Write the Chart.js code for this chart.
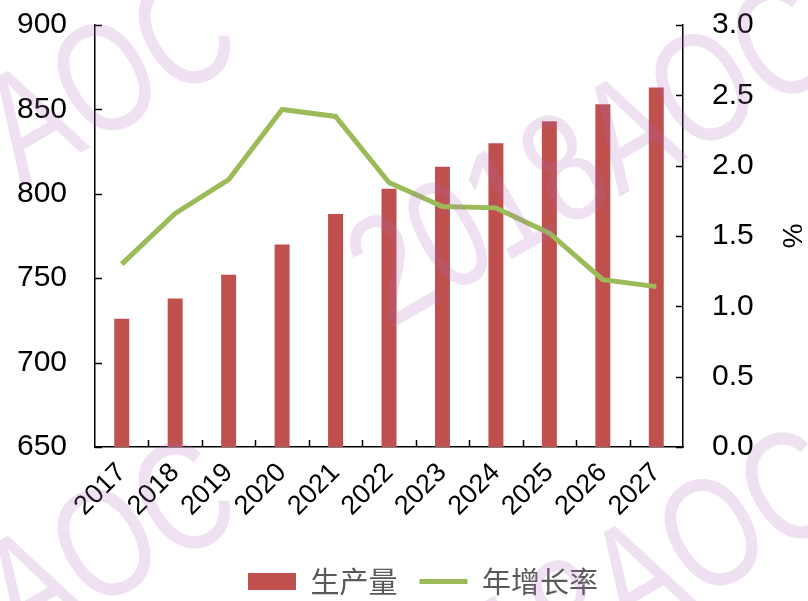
<!DOCTYPE html>
<html>
<head>
<meta charset="utf-8">
<script src="https://cdn.jsdelivr.net/npm/chart.js@4/dist/chart.umd.min.js"></script>
<style>
  body { margin: 0; background: #fff; }
  canvas { display: block; }
</style>
</head>
<body>
<canvas id="chart" width="808" height="601"></canvas>
<script>
const years = ['2017', '2018', '2019', '2020', '2021', '2022', '2023', '2024', '2025', '2026', '2027'];
const production = [726, 738, 752, 770, 788, 803, 816, 830, 843, 853, 863];
const growth = [1.30, 1.66, 1.90, 2.40, 2.35, 1.88, 1.71, 1.70, 1.52, 1.19, 1.14];
const leftTicks = [650, 700, 750, 800, 850, 900];
const rightTicks = [0, 0.5, 1.0, 1.5, 2.0, 2.5, 3.0];

const tickFont = { family: 'Liberation Sans, Arial, sans-serif', size: 30 };

// short tick marks pointing into the plot, like the original
const innerTicks = {
    id: 'innerTicks',
    afterDatasetsDraw(chart) {
        const ctx = chart.ctx;
        const area = chart.chartArea;
        const x = chart.scales.x;
        const y = chart.scales.y;
        const y2 = chart.scales.y2;
        ctx.save();
        ctx.strokeStyle = '#000';
        ctx.lineWidth = 1.5;
        ctx.beginPath();
        leftTicks.forEach(v => {
            const p = Math.round(y.getPixelForValue(v)) + 0.5;
            ctx.moveTo(area.left, p);
            ctx.lineTo(area.left + 7, p);
        });
        rightTicks.forEach(v => {
            const p = Math.round(y2.getPixelForValue(v)) + 0.5;
            ctx.moveTo(area.right, p);
            ctx.lineTo(area.right - 7, p);
        });
        const half = (x.getPixelForValue(1) - x.getPixelForValue(0)) / 2;
        for (let i = 1; i < years.length; i++) {
            const p = Math.round(x.getPixelForValue(i) - half) + 0.5;
            ctx.moveTo(p, area.bottom);
            ctx.lineTo(p, area.bottom - 7);
        }
        ctx.stroke();
        ctx.restore();
    }
};

// legend sits a bit right of centre and lower in the original
const legendShift = {
    id: 'legendShift',
    afterLayout(chart) {
        const lg = chart.legend;
        lg.left += 38;
        lg.top += 7;
        lg.bottom += 7;
    }
};

const watermark = {
    id: 'watermark',
    afterDraw(chart) {
        const ctx = chart.ctx;
        // x, y = centre of the "O" in each stamp
        const marks = [
            { text: 'AOC', at: 1, x: 103, y: 75 },
            { text: '2018AOC', at: 5, x: 701, y: 85 },
            { text: '2018AOC', at: 5, x: 103, y: 540 },
            { text: '2018AOC', at: 5, x: 710, y: 530 }
        ];
        ctx.save();
        ctx.font = '120px "Liberation Sans", Arial, sans-serif';
        ctx.fillStyle = 'rgba(175, 105, 190, 0.2)';
        ctx.textBaseline = 'alphabetic';
        ctx.textAlign = 'left';
        marks.forEach(m => {
            const pre = ctx.measureText(m.text.slice(0, m.at)).width;
            const o = ctx.measureText('O').width;
            ctx.save();
            ctx.translate(m.x, m.y);
            ctx.rotate(-30 * Math.PI / 180);
            ctx.scale(1, 1.3);
            ctx.fillText(m.text, -pre - o / 2, 0.36 * 120);
            ctx.restore();
        });
        ctx.restore();
    }
};

// the tick padding would otherwise push the plot top down
const noVPad = s => { s.paddingTop = 17; s.paddingBottom = 17; };

const ctx = document.getElementById('chart').getContext('2d');

new Chart(ctx, {
    type: 'bar',
    data: {
        labels: years,
        datasets: [{
            label: '生产量',
            data: production,
            backgroundColor: '#C0504D',
            barPercentage: 0.28,
            categoryPercentage: 1.0,
            yAxisID: 'y',
            pointStyle: 'rect',
            order: 1
        }, {
            type: 'line',
            label: '年增长率',
            data: growth,
            borderColor: '#9BBB59',
            backgroundColor: '#9BBB59',
            borderWidth: 5,
            pointRadius: 0,
            tension: 0,
            yAxisID: 'y2',
            pointStyle: 'line',
            order: 0
        }]
    },
    options: {
        responsive: false,
        animation: false,
        layout: { padding: { left: 0, top: 25, right: 0, bottom: 2 } },
        plugins: {
            tooltip: { enabled: false },
            legend: {
                position: 'bottom',
                labels: {
                    usePointStyle: true,
                    pointStyleWidth: 48,
                    boxHeight: 17,
                    padding: 22,
                    color: '#595959',
                    font: { family: '"Noto Sans CJK SC", sans-serif', size: 29 },
                    sort: (a, b) => a.datasetIndex - b.datasetIndex
                }
            }
        },
        scales: {
            x: {
                offset: true,
                grid: { display: false, drawTicks: false },
                border: { display: true, color: '#000', width: 1.5 },
                ticks: {
                    color: '#000',
                    font: { family: 'Liberation Sans, Arial, sans-serif', size: 27 },
                    minRotation: 45,
                    maxRotation: 45,
                    padding: 10,
                    autoSkip: false
                },
                afterFit: s => { s.height = 91; }
            },
            y: {
                position: 'left',
                min: 650,
                max: 900,
                afterBuildTicks: s => { s.ticks = leftTicks.map(v => ({ value: v })); },
                grid: { display: false, drawTicks: false },
                border: { display: true, color: '#000', width: 1.5 },
                ticks: { color: '#000', font: tickFont, padding: 28 },
                afterFit: s => { s.width = 95; noVPad(s); }
            },
            y2: {
                position: 'right',
                min: 0,
                max: 3.0,
                afterBuildTicks: s => { s.ticks = rightTicks.map(v => ({ value: v })); },
                grid: { display: false, drawTicks: false },
                border: { display: true, color: '#000', width: 1.5 },
                ticks: {
                    color: '#000',
                    font: tickFont,
                    padding: 29,
                    callback: v => Number(v).toFixed(1)
                },
                title: {
                    display: true,
                    text: '%',
                    color: '#000',
                    font: { family: 'Liberation Sans, Arial, sans-serif', size: 28 },
                    padding: { top: 0, bottom: 0 }
                },
                afterFit: s => { s.width = 125; noVPad(s); }
            }
        }
    },
    plugins: [innerTicks, legendShift, watermark]
});
</script>
</body>
</html>
